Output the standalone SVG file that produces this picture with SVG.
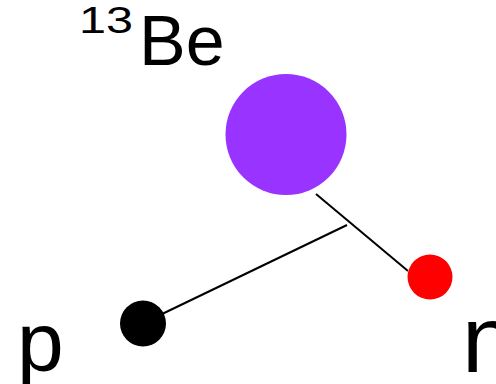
<svg xmlns="http://www.w3.org/2000/svg" width="496" height="384" viewBox="0 0 496 384">
<style>
text{font-family:"Liberation Sans",Arial,sans-serif;fill:#000}
.ln{stroke:#000;stroke-width:2;fill:none}
</style>
<rect width="496" height="384" fill="#fff"/>
<g id="connectors">
<line class="ln" x1="316" y1="194" x2="408" y2="271"/>
<line class="ln" x1="160" y1="315" x2="347" y2="225"/>
</g>
<g id="be13">
<circle cx="286" cy="134.5" r="60.5" fill="#9933ff"/>
<text x="79" y="33" font-size="36" textLength="54" lengthAdjust="spacingAndGlyphs">13</text>
<text x="139" y="65" font-size="70">Be</text>
</g>
<g id="neutron">
<circle cx="430" cy="277" r="22.5" fill="#ff0000"/>
<text x="462" y="372" font-size="94">n</text>
</g>
<g id="proton">
<circle cx="143" cy="323.5" r="23" fill="#000"/>
<text x="17" y="371" font-size="84">p</text>
</g>
</svg>
